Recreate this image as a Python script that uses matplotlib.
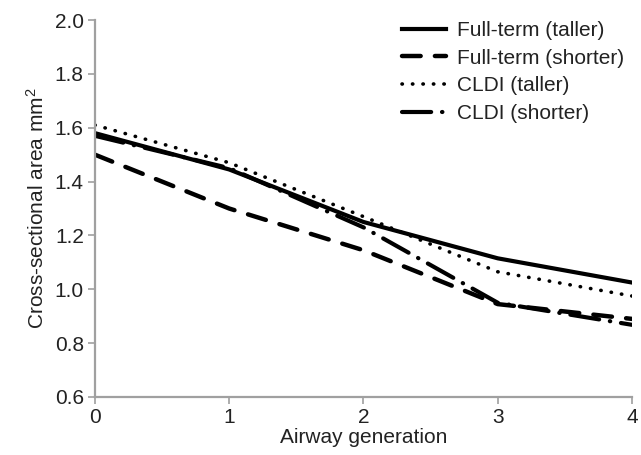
import matplotlib
matplotlib.use("Agg")
import matplotlib.pyplot as plt

plt.rcParams['font.family'] = ['Liberation Sans', 'DejaVu Sans']
plt.rcParams['mathtext.fontset'] = 'custom'
plt.rcParams['mathtext.rm'] = 'Liberation Sans'
plt.rcParams['mathtext.it'] = 'Liberation Sans'

generation = [0, 1, 2, 3, 4]
full_taller = [1.58, 1.445, 1.25, 1.115, 1.025]
full_shorter = [1.50, 1.30, 1.145, 0.945, 0.89]
cldi_taller = [1.61, 1.47, 1.27, 1.065, 0.975]
cldi_shorter = [1.57, 1.45, 1.23, 0.95, 0.868]

fig = plt.figure(figsize=(6.41, 4.55), dpi=100)
ax = fig.add_axes([0.148, 0.1275, 0.838, 0.8285])

ax.plot(generation, full_taller, color='black', lw=3.0, label='Full-term (taller)')
ax.plot(generation, full_shorter, color='black', lw=3.2, dashes=(4.2, 3.2),
        dash_capstyle='round', label='Full-term (shorter)')
ax.plot(generation, cldi_taller, color='black', lw=2.6, dashes=(0.1, 2.8),
        dash_capstyle='round', label='CLDI (taller)')
ax.plot(generation, cldi_shorter, color='black', lw=3.0, dashes=(7.0, 2.6, 0.1, 2.6),
        dash_capstyle='round', label='CLDI (shorter)')

ax.set_xlim(0, 4)
ax.set_ylim(0.6, 2.0)
ax.set_xticks(generation)
ax.set_yticks([0.6, 0.8, 1.0, 1.2, 1.4, 1.6, 1.8, 2.0])
ax.set_yticklabels(['0.6', '0.8', '1.0', '1.2', '1.4', '1.6', '1.8', '2.0'])

for side in ['top', 'right']:
    ax.spines[side].set_visible(False)
for side in ['left', 'bottom']:
    ax.spines[side].set_color('#a0a0a0')
    ax.spines[side].set_linewidth(1.6)
ax.tick_params(colors='#a0a0a0', labelcolor='#222222', labelsize=15, width=1.2,
               length=5)
ax.tick_params(axis='x', pad=3)
ax.tick_params(axis='y', pad=3)

ax.set_xlabel('Airway generation', fontsize=15, color='#222222', labelpad=1)
ax.set_ylabel('Cross-sectional area mm$^2$', fontsize=15, color='#222222', labelpad=5)

leg = ax.legend(loc='upper right', frameon=False, fontsize=15, handlelength=2.1,
                labelspacing=0.42, handletextpad=0.5, borderaxespad=0.0,
                bbox_to_anchor=(1.0, 1.02))
for t in leg.get_texts():
    t.set_color('#222222')

fig.savefig('out.png', dpi=100)
